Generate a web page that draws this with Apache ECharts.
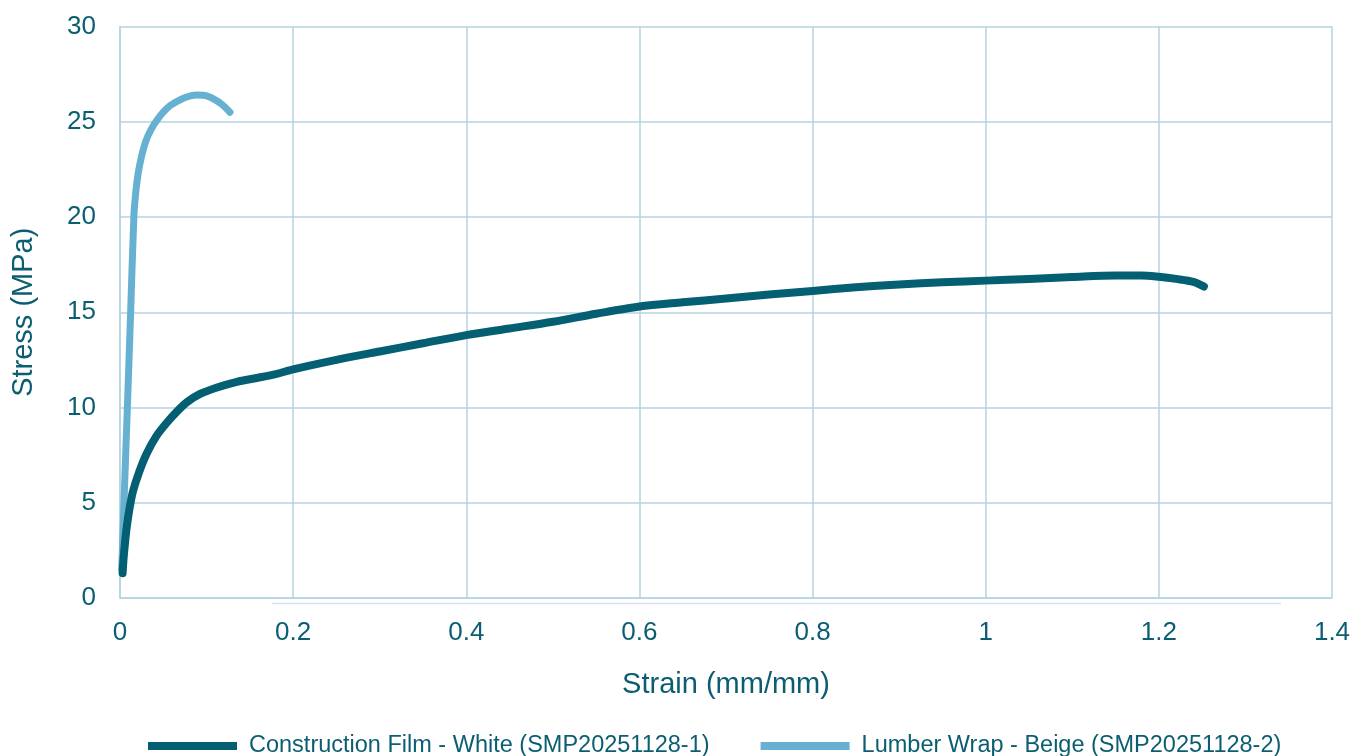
<!DOCTYPE html>
<html>
<head>
<meta charset="utf-8">
<script src="https://cdn.jsdelivr.net/npm/echarts@6/dist/echarts.min.js"></script>
<style>
  html, body { margin: 0; padding: 0; background: #fff; }
  #chart { width: 1372px; height: 756px; }
</style>
</head>
<body>
<div id="chart"></div>
<script>
// 图例名称
const seriesNames = [
  'Construction Film - White (SMP20251128-1)',
  'Lumber Wrap - Beige (SMP20251128-2)'
];

// Construction Film - White: [strain, stress]
const filmWhite = [
  [0.003, 1.3], [0.004, 2.0], [0.006, 3.0], [0.008, 3.8], [0.011, 4.7],
  [0.015, 5.6], [0.022, 6.6], [0.031, 7.6], [0.042, 8.5], [0.054, 9.2],
  [0.066, 9.8], [0.078, 10.3], [0.092, 10.7], [0.112, 11.05], [0.135, 11.35],
  [0.158, 11.55], [0.18, 11.75], [0.2, 12.0], [0.25, 12.5], [0.3, 12.94],
  [0.35, 13.37], [0.4, 13.8], [0.45, 14.15], [0.5, 14.5], [0.55, 14.92],
  [0.6, 15.3], [0.65, 15.52], [0.7, 15.72], [0.75, 15.93], [0.8, 16.12],
  [0.85, 16.31], [0.9, 16.46], [0.95, 16.57], [1.0, 16.66], [1.05, 16.75],
  [1.1, 16.85], [1.15, 16.93], [1.18, 16.93], [1.2, 16.86], [1.22, 16.75],
  [1.24, 16.6], [1.252, 16.35]
];

// Lumber Wrap - Beige: [strain, stress]
const wrapBeige = [
  [0.002, 1.5], [0.0046, 5], [0.0085, 10], [0.0123, 15], [0.016, 20],
  [0.018, 21.2], [0.021, 22.3], [0.025, 23.2], [0.03, 24.0], [0.036, 24.6],
  [0.043, 25.1], [0.05, 25.5], [0.058, 25.85], [0.067, 26.1], [0.077, 26.3],
  [0.088, 26.4], [0.098, 26.38], [0.108, 26.2], [0.118, 25.9], [0.127, 25.5]
];

// 坐标轴
const xTicks = { min: 0, max: 1.4, interval: 0.2 };
const yTicks = { min: 0, max: 30, interval: 5 };

const textColor = '#0b5e72';
const gridColor = '#b5d3e2';
const fontFamily = '"Liberation Sans", Arial, sans-serif';

const chart = echarts.init(document.getElementById('chart'));

chart.setOption({
  animation: false,
  textStyle: { fontFamily },
  grid: { left: 120, right: 40, top: 26.5, bottom: 158, containLabel: false },
  legend: {
    left: 148,
    top: 734,
    padding: 0,
    icon: 'rect',
    itemWidth: 89,
    itemHeight: 8,
    itemGap: 51,
    textStyle: { color: textColor, fontSize: 23.5, fontFamily, padding: [0, 0, 0, 7] },
    data: seriesNames
  },
  xAxis: {
    type: 'value',
    min: xTicks.min,
    max: xTicks.max,
    interval: xTicks.interval,
    name: 'Strain (mm/mm)',
    nameLocation: 'middle',
    nameGap: 72,
    nameTextStyle: { color: textColor, fontSize: 29, fontFamily },
    axisLine: { show: true, lineStyle: { color: gridColor, width: 1.5 } },
    axisTick: { show: false },
    axisLabel: { color: textColor, fontSize: 26, margin: 22, fontFamily },
    splitLine: { show: true, lineStyle: { color: gridColor, width: 1.5 } }
  },
  yAxis: {
    type: 'value',
    min: yTicks.min,
    max: yTicks.max,
    interval: yTicks.interval,
    name: 'Stress (MPa)',
    nameLocation: 'middle',
    nameGap: 82,
    nameTextStyle: { color: textColor, fontSize: 29, fontFamily },
    axisLine: { show: true, lineStyle: { color: gridColor, width: 1.5 } },
    axisTick: { show: false },
    axisLabel: { color: textColor, fontSize: 26, margin: 24, fontFamily },
    splitLine: { show: true, lineStyle: { color: gridColor, width: 1.5 } }
  },
  graphic: [{
    // 底部多余的浅色线
    type: 'line',
    shape: { x1: 272, y1: 603.5, x2: 1281, y2: 603.5 },
    style: { stroke: '#d3e2ea', lineWidth: 1.5 }
  }],
  series: [
    {
      name: seriesNames[0],
      type: 'line',
      data: filmWhite,
      showSymbol: false,
      smooth: 0.3,
      z: 3,
      itemStyle: { color: '#055f73' },
      lineStyle: { color: '#055f73', width: 8, cap: 'round', join: 'round' }
    },
    {
      name: seriesNames[1],
      type: 'line',
      data: wrapBeige,
      showSymbol: false,
      smooth: 0.3,
      z: 2,
      itemStyle: { color: '#66b1d2' },
      lineStyle: { color: '#66b1d2', width: 7, cap: 'round', join: 'round' }
    }
  ]
});
</script>
</body>
</html>
